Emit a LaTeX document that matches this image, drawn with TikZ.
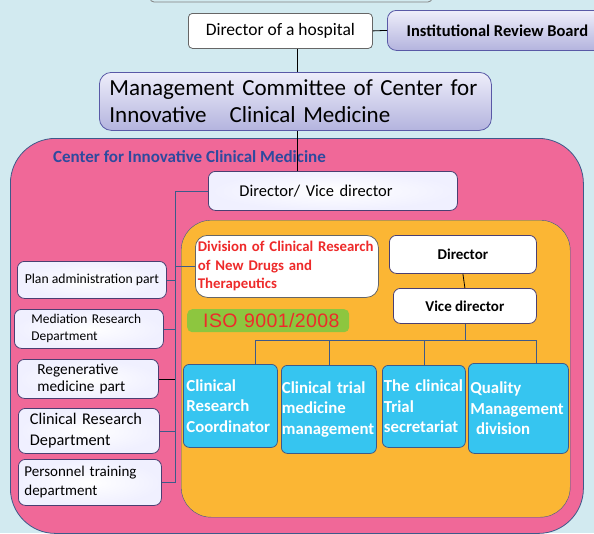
\documentclass[tikz,border=0pt]{standalone}
\usepackage{fontspec}
\setmainfont{Carlito}
\newfontfamily\isofont{Liberation Sans}[LetterSpace=2]
\usetikzlibrary{positioning,calc}
\definecolor{skyback}{HTML}{D2EAF0}
\definecolor{lavtop}{HTML}{EEEEFA}
\definecolor{lavbot}{HTML}{B4B4DE}
\definecolor{centerpink}{HTML}{F06898}
\definecolor{divorange}{HTML}{FBB634}
\definecolor{unitblue}{HTML}{36C5F0}
\definecolor{isogreen}{HTML}{8DC63F}
\definecolor{isored}{HTML}{EE2A2A}
\definecolor{titleblue}{HTML}{2E4A9E}
\definecolor{edgeblue}{HTML}{3D5A8A}
\definecolor{edgepurple}{HTML}{4A3F72}
\tikzset{
    frame/.style={
        rectangle,
        anchor=north west,
        inner sep=0pt
    },
    plainbox/.style={
        frame,
        rounded corners=4pt,
        draw=gray!80!black, thick,
        fill=white
    },
    lavbox/.style={
        frame,
        rounded corners=9pt,
        draw=gray!70!blue, thick,
        top color=lavtop,
        bottom color=lavbot
    },
    sidebox/.style={
        frame,
        rounded corners=7pt,
        draw=edgepurple, thick,
        inner color=white,
        outer color=blue!6
    },
    unitbox/.style={
        frame,
        rounded corners=6pt,
        draw=edgeblue, thick,
        fill=unitblue,
        text=white,
        align=left,
        font={\fontsize{16.8}{20.5}\selectfont\bfseries}
    },
    wire/.style={draw=edgeblue, thick},
    stem/.style={draw=black, thick},
}

\begin{document}
\begin{tikzpicture}[x=1pt, y=-1pt]

\clip (0,0) rectangle (594,533);
\fill [skyback] (0,0) rectangle (594,533);

% edge of a box above the picture
\draw [fill=skyback, draw=gray, thick, rounded corners=4pt] (150,-12) rectangle (432,2);

\node [plainbox, minimum width=184, minimum height=35,
       font={\fontsize{17.5}{20}\selectfont}] (hospital) at (188,13) {Director of a hospital};
\node [lavbox, minimum width=220, minimum height=40,
       font={\fontsize{16.5}{19}\selectfont\bfseries}] (irb) at (387,10) {Institutional Review Board};

\node [lavbox, rounded corners=12pt, minimum width=392, minimum height=58, text width=372, align=left,
       font={\fontsize{23}{27}\selectfont}] (mgmt) at (99,72)
  {Management Committee of Center for\\Innovative\ \ \ Clinical Medicine};

% the center
\node [frame, rounded corners=45pt, draw=edgeblue, thick, fill=centerpink,
       minimum width=573, minimum height=395] (center) at (10,138) {};
\node [anchor=west, inner sep=0pt, text=titleblue,
       font={\fontsize{17}{19}\selectfont\bfseries}] (title) at (53,157)
  {Center for Innovative Clinical Medicine};

\node [sidebox, minimum width=249, minimum height=39, text width=187, align=left,
       font={\fontsize{16.5}{19}\selectfont}] (dv) at (208,171) {Director/ Vice director};

\coordinate (spine) at (297,140);
\draw [stem] (hospital.east) -- (irb.west);
\draw [stem] (hospital.south -| spine) -- (mgmt.north -| spine);
\draw [stem] (mgmt.south -| spine) -- (dv.north -| spine);

% division
\node [frame, rounded corners=30pt, draw=edgeblue, fill=divorange,
       minimum width=389, minimum height=297] (division) at (181,220) {};

\node [plainbox, rounded corners=12pt, minimum width=183, minimum height=62,
       text width=178, align=left, text=isored,
       font={\fontsize{14.8}{18.5}\selectfont\bfseries}] (drugs) at (195,235)
  {Division of Clinical Research\\of New Drugs and\\Therapeutics};
\node [plainbox, rounded corners=7pt, draw=edgepurple, minimum width=147, minimum height=38,
       font={\fontsize{15}{18}\selectfont\bfseries}] (director) at (389,235) {Director};
\node [plainbox, rounded corners=7pt, draw=edgepurple, minimum width=143, minimum height=35,
       font={\fontsize{15}{18}\selectfont\bfseries}] (vice) at (393,288) {Vice director};
\node [frame, rounded corners=5pt, fill=isogreen, minimum width=162, minimum height=23,
       text width=154, align=left, text=isored,
       font={\fontsize{19.5}{22}\isofont}] (iso) at (187,309) {\hspace*{12pt}ISO 9001/2008};

\node [unitbox, minimum width=94, minimum height=83, text width=88] (crc) at (183,364)
  {Clinical\\Research\\Coordinator};
\node [unitbox, minimum width=95, minimum height=88, text width=94] (ctm) at (281,365)
  {Clinical trial\\medicine\\management};
\node [unitbox, minimum width=83, minimum height=82, text width=80] (cts) at (382,365)
  {The clinical\\Trial\\secretariat};
\node [unitbox, minimum width=100, minimum height=90, text width=96] (qmd) at (468,363)
  {Quality\\Management\\\ division};

\draw [stem] (director.south) -- (vice.north);

\foreach \x [count=\i] in {255,329,424,536}
  \coordinate (drop-\i) at (\x,340);
\draw [wire] (vice.south) -- (vice.south |- drop-1);
\draw [wire] (drop-1) -- (drop-4);
\foreach \u [count=\i] in {crc,ctm,cts,qmd}
  \draw [wire] (drop-\i) -- (\u.north -| drop-\i);

% parts on the left
\node [sidebox, minimum width=149, minimum height=37,
       font={\fontsize{13.7}{16}\selectfont}] (plan) at (17,261) {Plan administration part};
\node [sidebox, minimum width=149, minimum height=39, text width=115, align=left,
       font={\fontsize{13.4}{17}\selectfont}] (mediation) at (14,309)
  {Mediation Research\\Department};
\node [sidebox, minimum width=141, minimum height=39, text width=101, align=left,
       font={\fontsize{15.3}{17}\selectfont}] (regen) at (17,359)
  {Regenerative\\medicine part};
\node [sidebox, minimum width=141, minimum height=45, text width=118, align=left,
       font={\fontsize{16.3}{21}\selectfont}] (crd) at (18,408)
  {Clinical Research\\Department};
\node [sidebox, minimum width=143, minimum height=46, text width=131, align=left,
       font={\fontsize{15}{19}\selectfont}] (personnel) at (18,459)
  {Personnel training\\department};

\coordinate (bus) at (175,191);
\draw [wire] (dv.west) -- (dv.west -| bus) -- (bus |- personnel.east) -- (personnel.east);
\draw [wire] (drugs.west) -- (drugs.west -| bus);
\foreach \p in {plan,mediation,crd}
  \draw [wire] (\p.east) -- (\p.east -| bus);
\draw [stem] (regen.east) -- (regen.east -| bus);

\end{tikzpicture}
\end{document}
